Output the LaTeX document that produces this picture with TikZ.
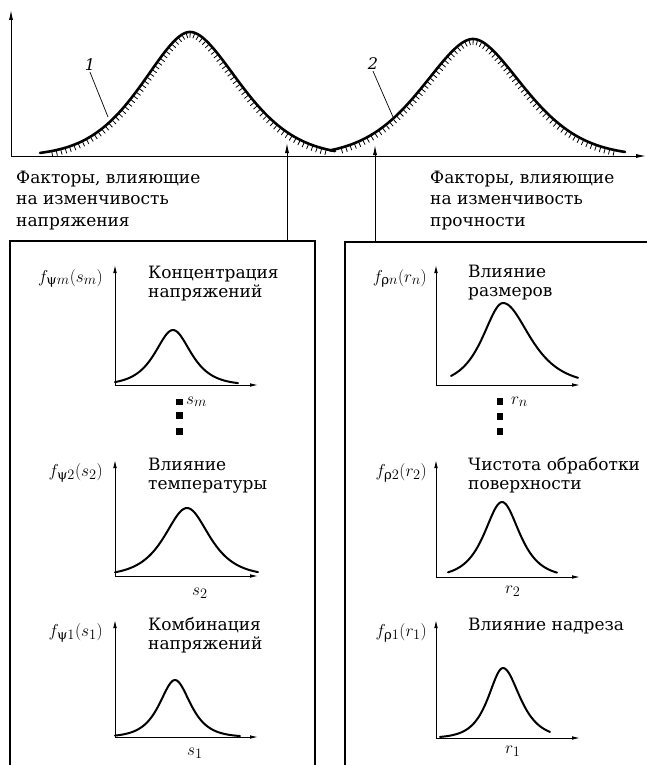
\documentclass[tikz,border=0pt]{standalone}
\usepackage{amsmath}
\usepackage{fontspec}
\setmainfont{DejaVu Serif}
\usetikzlibrary{arrows.meta,decorations.markings}
\begin{document}
\begin{tikzpicture}[x=1pt,y=-1pt,
  declare function={sech(\t)=2/(exp(\t)+exp(-\t));
    bell(\t,\s)=exp(-(((\t/10)^2+1)^0.83-1)/\s);},
  axis/.style={line width=0.9pt,-{Latex[length=10pt,width=4pt]}},
  saxis/.style={line width=0.9pt,-{Latex[length=8pt,width=3.6pt]}},
  bigcurve/.style={line width=2.6pt,line cap=round},
  smallcurve/.style={line width=2pt,line cap=round},
  boxline/.style={line width=1.1pt},
  hatch/.style={postaction={decorate,decoration={markings,
     mark=between positions 0.03 and 0.98 step 4.6pt with {\draw[line width=0.8pt] (0,-1pt) -- (0,-5.5pt);}}}},
  txt/.style={font=\fontsize{17}{21.5}\selectfont, align=left, inner sep=0pt, anchor=base west},
  ttl/.style={font=\fontsize{17}{19.5}\selectfont, align=left, inner sep=0pt, anchor=base west},
  flab/.style={font=\fontsize{19}{19}\selectfont, inner sep=0pt, anchor=base east},
  vlab/.style={font=\fontsize{19}{19}\selectfont, inner sep=0pt, anchor=base west},
  num/.style={font=\fontsize{16}{16}\selectfont\itshape, inner sep=1pt},
  sq/.style={fill=black}]
\useasboundingbox (0,0) rectangle (647,765);

% ---------- top diagram ----------
\coordinate (O) at (11,156);
\coordinate (Ytip) at (11,10);
\coordinate (Xtip) at (646,156);
\draw[axis] (O) -- (Ytip);
\draw[axis] (O) -- (Xtip);

\draw[bigcurve,hatch] plot[domain=40:335,samples=160]
  (\x,{156-124*bell(\x-190,(\x<190 ? 24.1 : 26))});
\draw[bigcurve,hatch] plot[domain=330:625,samples=160]
  (\x,{156-117*bell(\x-473,27.1)});

\node[num] (n1) at (90,65) {1};
\coordinate (c1) at (108,117);
\draw[line width=0.7pt] (n1.south) -- (c1);
\node[num] (n2) at (373,64) {2};
\coordinate (c2) at (393,117);
\draw[line width=0.7pt] (n2.south) -- (c2);

% ---------- boxes and arrows ----------
\draw[boxline] (10,766) -- (10,241) -- (315,241) -- (315,766);
\draw[boxline] (345,766) -- (345,242) -- (648,242);
\coordinate (a1s) at (287,241);
\coordinate (a1t) at (287,143);
\draw[axis] (a1s) -- (a1t);
\coordinate (a2s) at (375,242);
\coordinate (a2t) at (375,145);
\draw[axis] (a2s) -- (a2t);

% base anchor of a multi-line node = baseline of its last line
\node[txt] (tl) at (16,226) {Факторы, влияющие\\на изменчивость\\напряжения};
\node[txt] (tr) at (430,226) {Факторы, влияющие\\на изменчивость\\прочности};

% ---------- left column ----------
% plot m
\draw[saxis] (115,385) -- (115,265);
\draw[saxis] (115,385) -- (258,385);
\draw[smallcurve] plot[domain=115:238,samples=80] (\x,{385-55*sech((\x-173)/16)});
\node[flab] (fpm) at (103,282) {$f_{\text{ψ}m}(s_m)$};
\node[ttl] (tpm) at (148,297.5) {Концентрация\\напряжений};
\node[vlab] (sm) at (186,404) {$s_m$};
\fill[sq] (176,398.5) rectangle (182.5,405);
\fill[sq] (176,412) rectangle (182.5,418.5);
\fill[sq] (176,428) rectangle (182.5,434.5);

% plot 2
\draw[saxis] (115,576) -- (115,460);
\draw[saxis] (115,576) -- (258,576);
\draw[smallcurve] plot[domain=115:258,samples=80] (\x,{576-68*sech((\x-187)/20)});
\node[flab] (fp2) at (103,476) {$f_{\text{ψ}2}(s_2)$};
\node[ttl] (tp2) at (148,489.5) {Влияние\\температуры};
\node[vlab] (s2) at (192,595) {$s_2$};

% plot 1
\draw[saxis] (115,737) -- (115,620);
\draw[saxis] (115,737) -- (258,737);
\draw[smallcurve] plot[domain=115:240,samples=80] (\x,{737-57*sech((\x-175)/13.7)});
\node[flab] (fp1) at (103,636) {$f_{\text{ψ}1}(s_1)$};
\node[ttl] (tp1) at (148,649.5) {Комбинация\\напряжений};
\node[vlab] (s1) at (187,755) {$s_1$};

% ---------- right column ----------
% plot n
\draw[saxis] (436,385) -- (436,265);
\draw[saxis] (436,385) -- (580,385);
\draw[smallcurve] plot[domain=451:578,samples=80] (\x,{385-82*sech((\x-503)/(\x<503 ? 18 : 24))});
\node[flab] (frn) at (427,282) {$f_{\text{ρ}n}(r_n)$};
\node[ttl] (trn) at (468,296.5) {Влияние\\размеров};
\node[vlab] (rn) at (511,404) {$r_n$};
\fill[sq] (496.5,398) rectangle (503,404.5);
\fill[sq] (496.5,413) rectangle (503,419.5);
\fill[sq] (496.5,428) rectangle (503,434.5);

% plot 2
\draw[saxis] (436,577) -- (436,460);
\draw[saxis] (436,577) -- (580,577);
\draw[smallcurve] plot[domain=448:557,samples=80] (\x,{577-75*sech((\x-502)/15.6)});
\node[flab] (fr2) at (427,476) {$f_{\text{ρ}2}(r_2)$};
\node[ttl] (tr2) at (468,489.5) {Чистота обработки\\поверхности};
\node[vlab] (r2) at (505,593) {$r_2$};

% plot 1
\draw[saxis] (436,738) -- (436,620);
\draw[saxis] (436,738) -- (580,738);
\draw[smallcurve] plot[domain=440:550,samples=80] (\x,{738-70*sech((\x-503)/(\x<503 ? 13 : 15))});
\node[flab] (fr1) at (427,636) {$f_{\text{ρ}1}(r_1)$};
\node[ttl] (tr1) at (468,630) {Влияние надреза};
\node[vlab] (r1) at (505,753) {$r_1$};
\end{tikzpicture}
\end{document}
